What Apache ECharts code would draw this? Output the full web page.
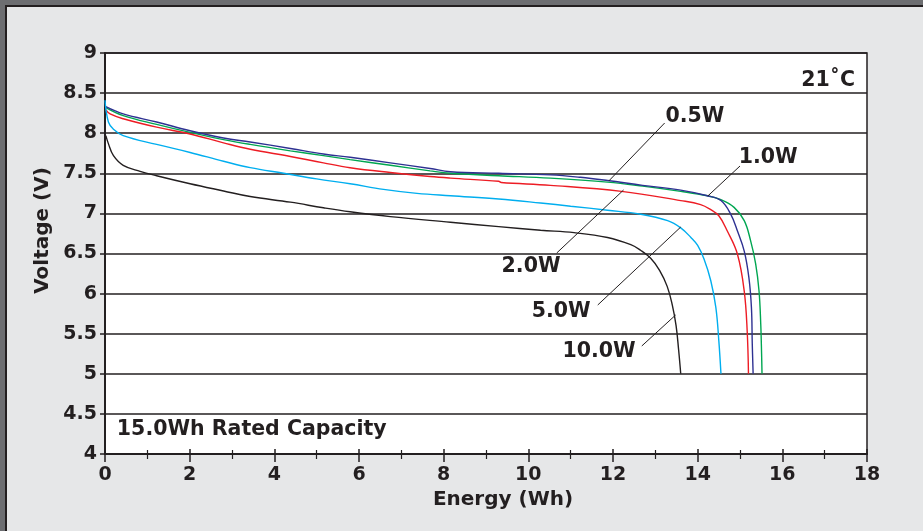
<!DOCTYPE html>
<html>
<head>
<meta charset="utf-8">
<script src="https://cdn.jsdelivr.net/npm/echarts@6/dist/echarts.min.js"></script>
<style>
  html,body{margin:0;padding:0;width:923px;height:531px;overflow:hidden;background:#6d6e71;}
  #frame{position:absolute;left:5px;top:5px;right:0;bottom:0;background:#e6e7e8;border-top:2px solid #231f20;border-left:2px solid #231f20;}
  #chart{position:absolute;left:0;top:0;width:923px;height:531px;}
</style>
</head>
<body>
<div id="frame"></div>
<div id="chart"></div>
<script>
// ---- Data (Energy Wh, Voltage V) ----
const seriesNames = ['0.5W', '1.0W', '2.0W', '5.0W', '10.0W'];

const curve05W = [[0.02,8.32],[0.43,8.22],[1.22,8.11],[2.01,8.01],[2.80,7.92],[3.43,7.86],[4.38,7.78],[5.16,7.72],[5.79,7.67],[6.74,7.60],[7.68,7.53],[8.16,7.50],[9.3,7.47],[10.52,7.44],[11.87,7.39],[12.7,7.34],[13.6,7.275],[14.23,7.22],[14.55,7.17],[14.86,7.075],[15.1,6.91],[15.25,6.66],[15.37,6.37],[15.45,6.03],[15.49,5.62],[15.51,5.25],[15.52,5.0]];

const curve10W = [[0.02,8.33],[0.43,8.24],[1.22,8.14],[2.01,8.03],[2.80,7.94],[3.43,7.89],[4.38,7.81],[5.16,7.74],[5.79,7.70],[6.74,7.63],[7.68,7.56],[8.16,7.52],[9.3,7.50],[10.52,7.48],[11.23,7.45],[11.87,7.41],[12.7,7.35],[13.6,7.29],[14.23,7.22],[14.55,7.16],[14.78,6.99],[14.94,6.78],[15.1,6.53],[15.21,6.20],[15.27,5.825],[15.29,5.37],[15.31,5.0]];

const curve20W = [[0.02,8.29],[0.12,8.24],[0.43,8.18],[1.22,8.075],[2.01,7.99],[2.80,7.88],[3.43,7.80],[4.38,7.71],[5.16,7.63],[5.79,7.57],[6.74,7.51],[7.68,7.46],[8.16,7.44],[9.3,7.40],[9.36,7.385],[10.52,7.35],[12.2,7.275],[13.6,7.16],[14.07,7.11],[14.3,7.05],[14.5,6.97],[14.7,6.78],[14.94,6.49],[15.1,6.03],[15.17,5.53],[15.2,5.0]];

const curve50W = [[0.0,8.41],[0.08,8.14],[0.2,8.05],[0.43,7.97],[1.22,7.86],[2.01,7.76],[2.80,7.65],[3.43,7.57],[4.22,7.50],[5.0,7.43],[5.79,7.37],[6.58,7.30],[7.37,7.25],[8.16,7.22],[9.3,7.18],[10.29,7.13],[11.0,7.09],[11.87,7.04],[12.65,6.99],[13.29,6.91],[13.6,6.82],[13.84,6.70],[14.0,6.60],[14.15,6.43],[14.31,6.16],[14.43,5.825],[14.5,5.41],[14.55,5.0]];

const curve100W = [[0.02,7.97],[0.08,7.87],[0.2,7.72],[0.43,7.60],[0.83,7.525],[1.22,7.47],[2.01,7.37],[2.80,7.28],[3.43,7.21],[4.38,7.14],[5.16,7.07],[5.79,7.02],[6.74,6.96],[8.16,6.89],[9.3,6.835],[10.29,6.79],[11.08,6.76],[11.87,6.70],[12.42,6.61],[12.65,6.54],[12.89,6.44],[13.1,6.29],[13.28,6.09],[13.4,5.86],[13.49,5.6],[13.55,5.3],[13.6,5.0]];

// Leader lines for the callouts: [from, to] in data units
const leader05W = [[13.22,8.127],[11.90,7.404]];
const leader10W = [[15.0,7.591],[14.24,7.217]];
const leader20W = [[10.67,6.506],[12.25,7.292]];
const leader50W = [[11.64,5.858],[13.6,6.83]];
const leader100W = [[12.68,5.347],[13.48,5.733]];

// Callout anchors (data units)
const calloutLeft = [[13.24,8.20,'0.5W'],[14.97,7.70,'1.0W']];
const calloutRight = [[10.76,6.33,'2.0W'],[11.47,5.77,'5.0W'],[12.535,5.27,'10.0W']];
const notes = [[17.72,8.66,'21˚C','right'],[0.28,4.30,'15.0Wh Rated Capacity','left']];

const xTicks = {min:0, max:18, interval:2};
const yTicks = {min:4, max:9, interval:0.5};

// ---- Chart ----
const FONT = "'DejaVu Sans', 'Open Sans', sans-serif";
const INK = '#231f20';
const chart = echarts.init(document.getElementById('chart'), null, {renderer:'canvas'});

const curves = [curve05W, curve10W, curve20W, curve50W, curve100W];
const colors = ['#00a651', '#2e3192', '#ed1c24', '#00aeef', '#231f20'];
const leaders = [leader05W, leader10W, leader20W, leader50W, leader100W];

const series = [];
curves.forEach((c, i) => {
  series.push({
    name: seriesNames[i], type:'line', data:c, showSymbol:false, symbol:'none',
    smooth:0.4, lineStyle:{color:colors[i], width:1.4}, z:3, silent:true
  });
});
leaders.forEach(l => {
  series.push({type:'line', data:l, symbol:'none', lineStyle:{color:INK, width:1}, z:4, silent:true});
});
const callLabel = {show:true, position:'inside', verticalAlign:'middle',
  fontFamily:FONT, fontSize:20.5, fontWeight:'bold', color:INK, opacity:1};
series.push({
  type:'scatter', symbolSize:0, data:calloutLeft, silent:true, z:5, itemStyle:{opacity:1},
  label:Object.assign({formatter:p=>p.data[2], align:'left'}, callLabel)
});
series.push({
  type:'scatter', symbolSize:0, data:calloutRight, silent:true, z:5, itemStyle:{opacity:1},
  label:Object.assign({formatter:p=>p.data[2], align:'right'}, callLabel)
});
notes.forEach(n => {
  series.push({
    type:'scatter', symbolSize:0, data:[n], silent:true, z:5, itemStyle:{opacity:1},
    label:Object.assign({formatter:p=>p.data[2], align:n[3]}, callLabel)
  });
});

const labelStyle = {fontFamily:FONT, fontSize:19, fontWeight:'bold', color:INK};

chart.setOption({
  animation:false,
  backgroundColor:'transparent',
  grid:{left:105, right:56, top:53, bottom:77, show:true, backgroundColor:'#ffffff', borderColor:INK, borderWidth:1.5},
  xAxis:[{
    type:'value', min:xTicks.min, max:xTicks.max, interval:xTicks.interval,
    name:'Energy (Wh)', nameLocation:'middle', nameGap:34,
    nameTextStyle:{fontFamily:FONT, fontSize:20, fontWeight:'bold', color:INK, padding:[0,0,0,34]},
    axisLine:{show:true, lineStyle:{color:INK, width:2}},
    axisTick:{show:true, length:8, lineStyle:{color:INK, width:1.5}},
    minorTick:{show:true, splitNumber:2, length:5, lineStyle:{color:INK, width:1.2}},
    splitLine:{show:false},
    axisLabel:Object.assign({margin:12}, labelStyle)
  },{
    type:'value', min:xTicks.min, max:xTicks.max, interval:xTicks.interval, position:'bottom',
    axisLine:{show:false},
    axisTick:{show:true, inside:true, length:5, lineStyle:{color:INK, width:1.5}},
    minorTick:{show:true, splitNumber:2, length:4, lineStyle:{color:INK, width:1.2}},
    splitLine:{show:false}, axisLabel:{show:false}
  }],
  yAxis:{
    type:'value', min:yTicks.min, max:yTicks.max, interval:yTicks.interval,
    name:'Voltage (V)', nameLocation:'middle', nameGap:52,
    nameTextStyle:{fontFamily:FONT, fontSize:20, fontWeight:'bold', color:INK, padding:[0,0,0,46]},
    axisLine:{show:true, lineStyle:{color:INK, width:2}},
    axisTick:{show:true, length:5, lineStyle:{color:INK, width:1.5}},
    splitLine:{show:true, lineStyle:{color:INK, width:1.5}},
    axisLabel:Object.assign({margin:8, formatter:v=>String(v)}, labelStyle)
  },
  series:series
});
</script>
</body>
</html>
